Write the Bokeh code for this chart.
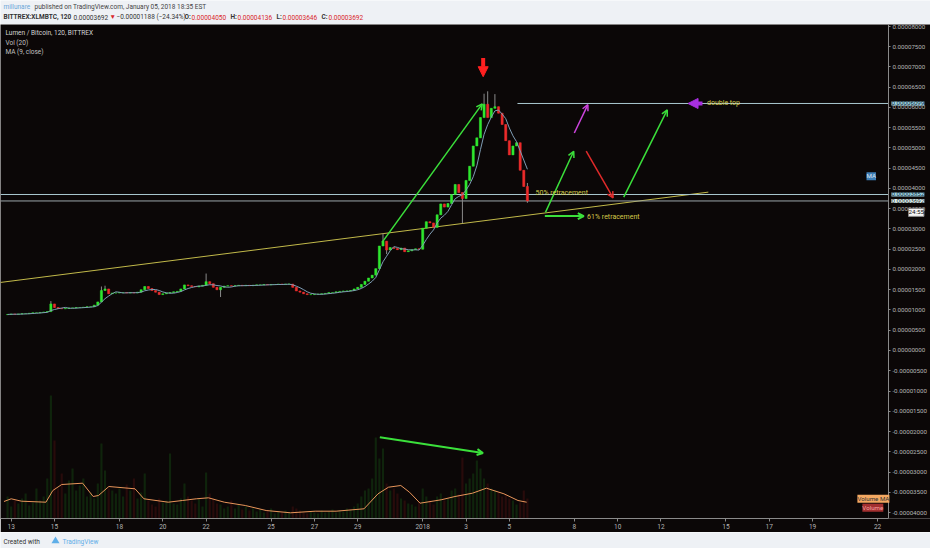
import numpy as np
import pandas as pd
from bokeh.plotting import figure
from bokeh.layouts import column
from bokeh.models import (Range1d, FixedTicker, PrintfTickFormatter, Arrow, LinearAxis,
                          OpenHead, NormalHead, Label, ColumnDataSource)
from bokeh.embed import file_html
from bokeh.resources import INLINE

# ---------------- data (prices in micro-BTC, i.e. 1e-6 BTC) ----------------
candle_start = "2017-12-12 20:00"      # 4-hour candles
first_open = 8.85
close_ubtc = [
    8.9, 9.0, 8.95, 9.0, 9.1, 9.1, 9.2, 9.3, 9.3, 9.4, 9.5, 9.6,
    11.5, 10.6, 10.4, 10.3, 10.4, 10.5, 10.5, 10.6, 10.6, 10.7, 10.8, 10.8,
    11.2, 12.0, 14.8, 15.2, 14.0, 14.2, 14.2, 14.3, 14.3, 14.2, 14.3, 14.2,
    14.4, 15.0, 15.8, 15.3, 14.8, 14.4, 13.8, 14.0, 14.2, 14.3, 14.5, 14.6,
    15.2, 16.2, 16.0, 15.8, 15.7, 15.9, 16.1, 17.0, 16.5, 15.6, 15.0, 15.6,
    15.9, 16.0, 15.9, 16.0, 16.1, 16.0, 16.1, 16.0, 16.1, 16.2, 16.2, 16.3,
    16.2, 16.3, 16.3, 16.4, 16.3, 16.4, 16.4, 15.6, 14.7, 14.4, 14.0, 13.8,
    13.8, 13.9, 13.9, 14.0, 14.1, 14.3, 14.3, 14.5, 14.6, 14.7, 14.7, 14.8,
    15.2, 15.6, 16.3, 17.1, 17.9, 18.6, 20.2, 25.8, 27.0, 24.8, 25.4, 25.2,
    24.9, 25.3, 24.4, 24.6, 24.9, 25.1, 25.0, 30.2, 31.8, 31.5, 30.4, 33.5,
    36.2, 35.4, 36.3, 38.5, 41.0, 39.0, 37.5, 42.0, 45.5, 50.5, 52.5, 57.5,
    60.8, 57.5, 59.8, 60.2, 58.6, 55.8, 51.8, 48.3, 50.5, 51.3, 44.5, 40.5, 36.92,
]
volume = [
    22, 12, 18, 15, 20, 25, 13, 16, 30, 18, 22, 40,
    123, 78, 30, 45, 25, 38, 50, 28, 33, 40, 22, 26,
    20, 35, 75, 48, 30, 28, 25, 30, 22, 34, 28, 40,
    20, 26, 45, 18, 14, 12, 20, 16, 18, 65, 15, 14,
    20, 35, 22, 18, 15, 20, 12, 46, 25, 20, 15, 14,
    10, 12, 18, 10, 14, 9, 12, 8, 10, 7, 9, 6,
    8, 10, 5, 7, 6, 8, 6, 12, 10, 8, 6, 5,
    7, 6, 5, 8, 6, 7, 9, 6, 8, 7, 10, 9,
    12, 15, 22, 28, 30, 40, 81, 60, 70, 35, 28, 30,
    25, 20, 18, 15, 14, 12, 16, 30, 22, 18, 14, 22,
    25, 18, 20, 28, 30, 24, 61, 35, 40, 45, 58, 50,
    40, 35, 30, 28, 26, 22, 24, 20, 18, 14, 16, 28, 20,
]
high_spikes = {
    "2017-12-14 20:00": 12.2, "2017-12-17 04:00": 15.8, "2017-12-17 08:00": 16.0,
    "2017-12-22 00:00": 19.0, "2017-12-30 04:00": 28.9, "2018-01-03 20:00": 63.4,
    "2018-01-04 00:00": 64.0, "2018-01-04 08:00": 63.3, "2018-01-05 20:00": 41.36,
}
low_spikes = {
    "2017-12-22 16:00": 13.2, "2017-12-30 08:00": 23.8, "2018-01-02 20:00": 31.4,
    "2018-01-05 20:00": 36.46,
}
vol_ma_times = [
    "2017-12-12 16:00", "2017-12-13 00:00", "2017-12-13 11:25", "2017-12-14 14:30",
    "2017-12-14 22:10", "2017-12-15 08:00", "2017-12-16 07:10", "2017-12-16 18:50",
    "2017-12-17 00:45", "2017-12-17 12:15", "2017-12-18 17:15", "2017-12-19 03:05",
    "2017-12-20 06:00", "2017-12-20 21:35", "2017-12-21 13:05", "2017-12-22 02:35",
    "2017-12-22 20:10", "2017-12-23 19:25", "2017-12-24 18:30", "2017-12-25 21:35",
    "2017-12-27 00:50", "2017-12-28 00:00", "2017-12-29 07:00", "2017-12-29 22:30",
    "2017-12-30 10:05", "2017-12-30 23:45", "2017-12-31 09:20", "2017-12-31 21:05",
    "2018-01-01 20:25", "2018-01-02 11:45", "2018-01-03 07:10", "2018-01-03 22:35",
    "2018-01-04 18:00", "2018-01-05 09:35", "2018-01-05 19:10",
]
vol_ma_values = [
    17, 19.7, 17.3, 16.3, 28, 34, 35.3, 22, 23, 32, 29.7, 19.7,
    16.3, 18, 19.7, 20.7, 16.3, 13, 8, 5.7, 7.3, 7.3, 9.7, 24.7,
    31.3, 33, 26.3, 15.3, 18.7, 22, 25.3, 30.3, 24.7, 18, 16.3,
]
y_ticks_ubtc = [-40, -35, -30, -25, -20, -15, -10, -5, 0, 5, 10, 15, 20, 25,
                30, 35, 40, 45, 50, 55, 60, 65, 70, 75, 80]
x_tick_dates = ["2017-12-13", "2017-12-15", "2017-12-18", "2017-12-20", "2017-12-22",
                "2017-12-25", "2017-12-27", "2017-12-29", "2018-01-01", "2018-01-03",
                "2018-01-05", "2018-01-08", "2018-01-10", "2018-01-12", "2018-01-15",
                "2018-01-17", "2018-01-19", "2018-01-22"]
x_tick_labels = ["13", "15", "18", "20", "22", "25", "27", "29", "2018", "3", "5",
                 "8", "10", "12", "15", "17", "19", "22"]
double_top = 60.99
retrace_50 = 38.52
last_close = 36.92
trend_dates = ["2017-12-12 12:00", "2018-01-14 04:30"]
trend_prices = [16.8, 39.1]

# ---------------- helpers ----------------
U = 1e-6
def ms(s):
    return pd.Timestamp(s).value / 1e6

BG = "#0b0707"
LIGHT = "#eef1f5"
GREEN = "#2ee82e"
RED = "#ee2a2a"
FONT = "Roboto"
X0 = "2017-12-12 12:10"       # left edge of the chart
XAX = "2018-01-22 12:00"      # price-scale position
X1 = "2018-01-24 10:40"       # right edge of the dark panel

times = pd.date_range(candle_start, periods=len(close_ubtc), freq="4h")
c = np.array(close_ubtc) * U
o = np.concatenate([[first_open * U], c[:-1]])
hi = np.maximum(o, c)
lo = np.minimum(o, c)
for t, v in high_spikes.items():
    hi[times.get_loc(pd.Timestamp(t))] = v * U
for t, v in low_spikes.items():
    lo[times.get_loc(pd.Timestamp(t))] = v * U
up = c >= o
ma = pd.Series(c).rolling(5, min_periods=1).mean().values

src = ColumnDataSource(dict(t=times, top=np.maximum(o, c), bot=np.minimum(o, c),
                            h=hi, l=lo, vol=volume,
                            color=np.where(up, GREEN, RED)))
W = 4 * 3600 * 1000 * 0.6

# ---------------- main chart ----------------
p = figure(width=930, height=508, x_axis_type="datetime", y_axis_location=None,
           x_range=Range1d(ms(X0), ms(X1)),
           y_range=Range1d(-41.48 * U, 80.49 * U),
           output_backend="svg", toolbar_location=None,
           background_fill_color=BG, border_fill_color=BG, outline_line_color=None,
           min_border_left=0, min_border_top=0, min_border_right=0, min_border_bottom=14)
p.grid.visible = False
p.extra_y_ranges = {"vol": Range1d(0, 494)}

p.vbar(x="t", top="vol", bottom=0, width=W, source=src, y_range_name="vol",
       fill_color="color", fill_alpha=0.13, line_color=None)
p.line([ms(t) for t in vol_ma_times], vol_ma_values, y_range_name="vol",
       line_color="#e8955a", line_width=1)

p.line([ms(t) for t in trend_dates], [v * U for v in trend_prices],
       line_color="#c2b94a", line_width=1)
p.line([ms(X0), ms(XAX)], [retrace_50 * U] * 2, line_color="#a9c8d0", line_width=1)
p.line([ms(X0), ms(XAX)], [last_close * U] * 2, line_color="#9aa6aa", line_width=1)
p.line([ms("2018-01-05 09:00"), ms(XAX)], [double_top * U] * 2,
       line_color="#a9c8d0", line_width=1)

p.segment(x0="t", x1="t", y0="l", y1="h", line_color="#8a8a8a", line_width=1, source=src)
p.vbar(x="t", width=W, top="top", bottom="bot", fill_color="color",
       line_color="color", line_width=0.5, source=src)
p.line(times, ma, line_color="#7f9db5", line_width=1)

# axes
yax = LinearAxis(fixed_location=ms(XAX))
p.add_layout(yax, "right")
yax.ticker = FixedTicker(ticks=[v * U for v in y_ticks_ubtc])
yax.formatter = PrintfTickFormatter(format="%.8f")
xax = p.xaxis[0]
xax.ticker = FixedTicker(ticks=[ms(d) for d in x_tick_dates])
xax.major_label_overrides = {ms(d): lab for d, lab in zip(x_tick_dates, x_tick_labels)}
xax.bounds = (ms(X0), ms(XAX))
for ax in (xax, yax):
    ax.axis_line_color = "#8a8a8a"
    ax.major_tick_line_color = "#8a8a8a"
    ax.major_tick_out = 3
    ax.major_tick_in = 0
    ax.minor_tick_line_color = None
    ax.major_label_text_color = "#b4b4b4"
    ax.major_label_text_font = FONT
    ax.major_label_text_font_size = "6.5px"
    ax.major_label_standoff = 3
yax.major_label_text_font_size = "6.2px"
yax.major_tick_out = 2
yax.major_label_standoff = 2
xax.major_label_standoff = 2

# arrows
def arrow(x0, y0, x1, y1, color, width=1.5, size=6):
    p.add_layout(Arrow(end=OpenHead(size=size, line_color=color, line_width=width),
                       x_start=ms(x0), y_start=y0 * U, x_end=ms(x1), y_end=y1 * U,
                       line_color=color, line_width=width))

arrow("2017-12-30 03:00", 26.7, "2018-01-03 18:00", 60.9, "#3be03b")
arrow("2018-01-06 16:00", 34.1, "2018-01-07 23:20", 49.2, "#3be03b")
arrow("2018-01-08 00:00", 53.7, "2018-01-08 15:00", 60.7, "#cc44dd")
arrow("2018-01-08 13:10", 49.2, "2018-01-09 19:00", 37.7, "#e02a2a")
arrow("2018-01-10 06:45", 37.85, "2018-01-12 07:00", 59.4, "#3be03b")
arrow("2018-01-06 15:20", 33.2, "2018-01-08 10:30", 33.2, "#3be03b", width=2)
arrow("2017-12-30 00:30", -21.4, "2018-01-03 18:45", -25.3, "#3be03b", width=2)
p.add_layout(Arrow(end=NormalHead(size=10, fill_color="#ff2020", line_color="#ff2020"),
                   x_start=ms("2018-01-03 19:00"), y_start=72.2 * U,
                   x_end=ms("2018-01-03 19:00"), y_end=67.6 * U,
                   line_color="#ff2020", line_width=4))
p.add_layout(Arrow(end=NormalHead(size=10, fill_color="#a82fe0", line_color="#a82fe0"),
                   x_start=ms("2018-01-13 22:00"), y_start=double_top * U,
                   x_end=ms("2018-01-13 06:00"), y_end=double_top * U,
                   line_color="#a82fe0", line_width=4))

def note(x, y, text, color="#d4c94a", size="7px"):
    p.add_layout(Label(x=ms(x), y=y * U, text=text, text_font=FONT, text_font_size=size,
                       text_color=color, text_baseline="middle"))

note("2018-01-06 05:00", 38.9, "50% retracement")
note("2018-01-08 14:10", 33.0, "61% retracement")
note("2018-01-14 03:00", 61.0, "double top")
note("2017-12-12 17:40", 78.5, "Lumen / Bitcoin, 120, BITTREX", "#d4d4d4", "6.5px")
note("2017-12-12 17:40", 76.0, "Vol (20)", "#c0c0c0", "6.5px")
note("2017-12-12 17:40", 73.6, "MA (9, close)", "#c0c0c0", "6.5px")

def tag(x, y, text, bg, fg, border=None, size="6.2px"):
    p.add_layout(Label(x=ms(x), y=y * U, text=text, text_font=FONT, text_font_size=size,
                       text_color=fg, text_baseline="middle", background_fill_color=bg,
                       border_line_color=border, padding=0))

tag("2018-01-22 15:20", double_top, "0.00006099", "#9fd4e4", "#0e2a3a")
tag("2018-01-22 15:20", retrace_50, "0.00003852", "#9fd4e4", "#0e2a3a")
tag("2018-01-22 15:20", last_close, "0.00003692", "#dfeeee", "#223333")
tag("2018-01-23 10:20", 34.1, "24:55", "#f4f4f4", "#111111", "#888888")
tag("2018-01-21 11:45", 43.0, "MA", "#3d7db5", "#dde6ee")
tag("2018-01-21 07:10", -38.8, "Volume", "#a33030", "#f5a0a0")
tag("2018-01-21 01:40", -36.6, "Volume MA", "#f4a862", "#333333")

# ---------------- header ----------------
hdr = figure(width=930, height=24, x_range=Range1d(0, 930), y_range=Range1d(0, 24),
             x_axis_location=None, y_axis_location=None, output_backend="svg",
             toolbar_location=None, min_border=0, background_fill_color=LIGHT,
             border_fill_color=LIGHT, outline_line_color=None)
hdr.grid.visible = False

def htxt(fig, x, y, text, color="#444444", bold=False, size="6.5px"):
    fig.add_layout(Label(x=x, y=y, text=text, text_font=FONT, text_font_size=size,
                         text_color=color, text_baseline="middle",
                         text_font_style="bold" if bold else "normal"))

htxt(hdr, 3, 18, "millunare", "#6aa6d8")
htxt(hdr, 34, 18, "published on TradingView.com, January 05, 2018 18:35 EST")
seg2 = [(3, "BITTREX:XLMBTC, 120", "#333333", True),
        (73, "0.00003692", "#333333", False),
        (109, "\u25bc", "#d9262b", False),
        (116, "\u22120.00001188 (\u221224.34%)", "#333333", False),
        (184, "O:", "#333333", True), (191, "0.00004050", "#d9262b", False),
        (230, "H:", "#333333", True), (237, "0.00004136", "#d9262b", False),
        (276, "L:", "#333333", True), (282, "0.00003646", "#d9262b", False),
        (321, "C:", "#333333", True), (328, "0.00003692", "#d9262b", False)]
for x, t, col, b in seg2:
    htxt(hdr, x, 7.5, t, col, b)

# ---------------- footer ----------------
ftr = figure(width=930, height=16, x_range=Range1d(0, 930), y_range=Range1d(0, 16),
             x_axis_location=None, y_axis_location=None, output_backend="svg",
             toolbar_location=None, min_border=0, background_fill_color=LIGHT,
             border_fill_color=LIGHT, outline_line_color=None)
ftr.grid.visible = False
htxt(ftr, 3, 7, "Created with", "#333333")
ftr.scatter([55], [7.5], marker="triangle", size=8, fill_color="#5eaee8", line_color=None)
htxt(ftr, 62, 7, "TradingView", "#5eaee8")

layout = column(hdr, p, ftr, spacing=0)
open("out.html", "w").write(file_html(layout, INLINE))
